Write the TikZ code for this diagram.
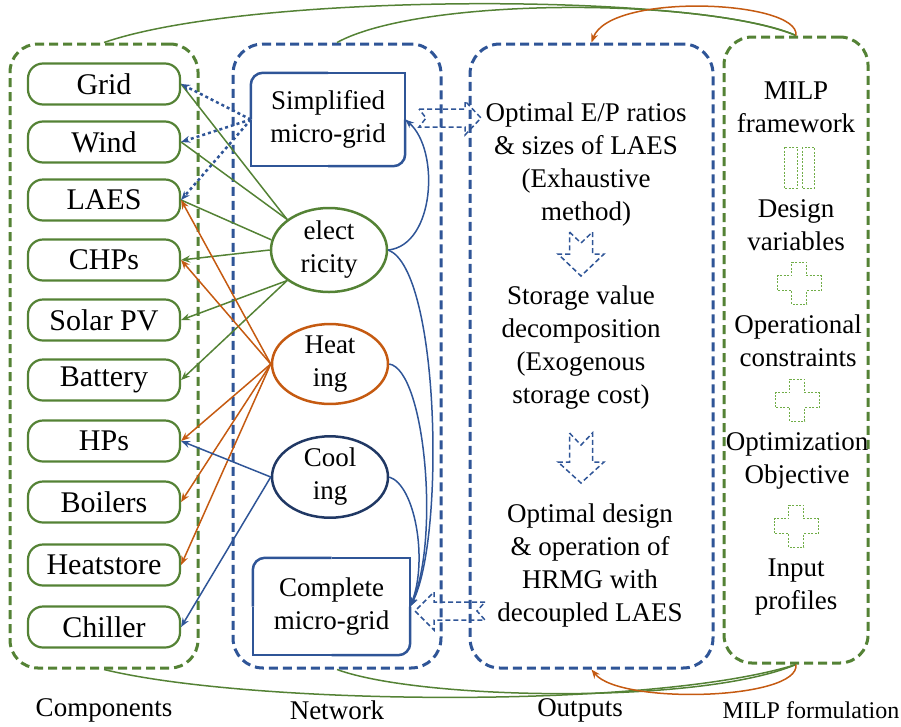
\documentclass[tikz,border=0pt]{standalone}
\usepackage{fontspec}
\setmainfont{LiberationSerif}[Extension=.ttf, UprightFont=*-Regular, BoldFont=*-Bold, ItalicFont=*-Italic]
\usetikzlibrary{shapes.geometric,arrows.meta}
\definecolor{grn}{HTML}{548235}
\definecolor{blu}{HTML}{2F5597}
\definecolor{navy}{HTML}{203864}
\definecolor{org}{HTML}{C55A11}
\definecolor{lgrn}{HTML}{70AD47}
\tikzset{
  txt/.style={font=\fontsize{27}{33}\selectfont, align=center, text=black, inner sep=0pt},
  frame/.style={draw=#1, line width=3pt, dash pattern=on 9pt off 5pt, rounded corners=28pt, inner sep=0pt},
  comp/.style={draw=grn, line width=2.2pt, rounded corners=15pt, minimum width=152pt,
               minimum height=41pt, inner sep=0pt, font=\fontsize{30}{34}\selectfont},
  gridbox/.style={inner sep=0pt, txt},
  diagline/.style={draw=blu, line width=2.5pt},
  oval/.style={ellipse, draw=#1, line width=2.5pt, minimum width=116pt, inner sep=0pt, txt},
  endtip/.style={-{Stealth[length=9pt,width=7pt]}},
  gline/.style={draw=grn, line width=1.5pt},
  oline/.style={draw=org, line width=1.5pt, endtip},
  bline/.style={draw=blu, line width=1.5pt},
  dotline/.style={draw=blu, line width=2.5pt, dash pattern=on 3pt off 3pt, endtip},
  hollow/.style={draw=blu, line width=1.5pt, dash pattern=on 5pt off 3pt, line join=miter},
  plusmark/.style={draw=lgrn, line width=0.9pt, dash pattern=on 2pt off 1.5pt},
  plussign/.pic={\draw[plusmark] (-7.5,-21) -- (7.5,-21) -- (7.5,-7.5) -- (22,-7.5) -- (22,7.5)
     -- (7.5,7.5) -- (7.5,21) -- (-7.5,21) -- (-7.5,7.5) -- (-22,7.5) -- (-22,-7.5) -- (-7.5,-7.5) -- cycle;}
}
% outline of a node with its upper-left and lower-right corners rounded
\newcommand\diagroundframe[1]{%
  \draw[diagline, rounded corners=12pt] (#1.west) -- (#1.north west) -- (#1.north);
  \draw[diagline] (#1.north) -- (#1.north east) -- (#1.east);
  \draw[diagline, rounded corners=12pt] (#1.east) -- (#1.south east) -- (#1.south);
  \draw[diagline] (#1.south) -- (#1.south west) -- (#1.west);}
\begin{document}
\begin{tikzpicture}[x=1pt,y=-1pt]
\useasboundingbox (0,0) rectangle (901,726);

% column frames
\node[frame=grn, minimum width=188pt, minimum height=624pt] (compbox) at (104,356) {};
\node[frame=blu, minimum width=208pt, minimum height=624pt, rounded corners=30pt] (netbox) at (337,356) {};
\node[frame=blu, minimum width=243pt, minimum height=624pt, rounded corners=30pt] (outbox) at (591.5,356) {};
\node[frame=grn, minimum width=144pt, minimum height=626pt] (milpbox) at (796,350) {};

% components
\node[comp] (grid)  at (104,84)  {Grid};
\node[comp] (wind)  at (104,142) {Wind};
\node[comp] (laes)  at (104,200) {LAES};
\node[comp] (chp)   at (104,260) {CHPs};
\node[comp] (pv)    at (104,320) {Solar PV};
\node[comp] (batt)  at (104,380) {Battery};
\node[comp] (hp)    at (104,441) {HPs};
\node[comp] (boil)  at (104,502) {Boilers};
\node[comp] (hstore) at (104,565) {Heatstore};
\node[comp] (chill) at (104,627) {Chiller};

% network
\node[gridbox, minimum width=154pt, minimum height=93pt] (simp) at (328,119.5) {Simplified\\micro-grid};
\node[gridbox, minimum width=157pt, minimum height=97pt] (cmpl) at (331.5,606.5) {Complete\\micro-grid};
\diagroundframe{simp}
\diagroundframe{cmpl}
\node[oval=grn, minimum height=84pt] (elec) at (329,250) {elect\\ricity};
\node[oval=org, minimum height=76pt] (heat) at (330,364) {Heat\\ing};
\node[oval=navy, minimum height=76pt] (cool) at (330,477) {Cool\\ing};

% outputs
\node[txt] (out1) at (586,165) {Optimal E/P ratios\\\& sizes of LAES\\(Exhaustive\\method)};
\node[txt] (out2) at (581,347.5) {Storage value\\decomposition\\(Exogenous\\storage cost)};
\node[txt] (out3) at (590,565.5) {Optimal design\\\& operation of\\HRMG with\\decoupled LAES};

% MILP formulation
\node[txt] (m1) at (796,107) {MILP\\framework};
\node[txt] (m2) at (796,225) {Design\\variables};
\node[txt] (m3) at (798,341) {Operational\\constraints};
\node[txt] (m4) at (797,461) {Optimization\\Objective};
\node[txt] (m5) at (796,587) {Input\\profiles};
\draw[plusmark] (784,147) rectangle (797,188);
\draw[plusmark] (802,147) rectangle (814,188);
\pic at (799,283) {plussign};
\pic at (797,400) {plussign};
\pic at (796,526) {plussign};

% column captions
\node[txt] (c1) at (104,710) {Components};
\node[txt] (c2) at (337,710) {Network};
\node[txt] (c3) at (580,710) {Outputs};
\node[txt, font=\fontsize{24}{28}\selectfont] (c4) at (811,710) {MILP formulation};

% block arrows between network and outputs
\draw[hollow] (419,109) -- (465,109) -- (465,101) -- (481,118) -- (465,135) -- (465,127) -- (419,127) -- (426,118) -- cycle;
\draw[hollow] (569.5,232) -- (581,243) -- (592.5,232) -- (592.5,254) -- (604,254) -- (581,276) -- (558,254) -- (569.5,254) -- cycle;
\draw[hollow] (569.5,433) -- (581,445) -- (592.5,433) -- (592.5,462) -- (604,462) -- (581,483) -- (558,462) -- (569.5,462) -- cycle;
\draw[hollow] (485,602) -- (434,602) -- (434,592) -- (415,611) -- (434,630) -- (434,620) -- (485,620) -- (477,611) -- cycle;

% electricity links
\draw[gline] (elec.north west) -- (grid.east);
\draw[gline] (elec.north west) -- (wind.east);
\draw[gline] (elec.170) -- (laes.east);
\draw[gline, endtip] (elec.west) -- (chp.east);
\draw[gline, endtip] (elec.south west) -- (pv.east);
\draw[gline, endtip] (elec.south west) -- (batt.east);

% heating links
\draw[oline] (heat.west) -- (laes.east);
\draw[oline] (heat.west) -- (chp.east);
\draw[oline] (heat.west) -- (hp.east);
\draw[oline] (heat.west) -- (boil.east);
\draw[oline] (heat.west) -- (hstore.east);

% cooling links
\draw[bline, endtip] (cool.west) -- (hp.east);
\draw[bline, endtip] (cool.west) -- (chill.east);

% simplified micro-grid links
\draw[dotline] (simp.west) -- (grid.east);
\draw[dotline] (simp.west) -- (wind.east);
\draw[dotline] (simp.west) -- (laes.east);

% carriers feeding the micro-grid models
\draw[bline, endtip] (elec.east) .. controls (435,245) and (440,150) .. (simp.east);
\draw[bline, endtip] (elec.east) .. controls (440,270) and (445,540) .. (cmpl.east);
\draw[bline, endtip] (heat.east) .. controls (425,370) and (440,540) .. (cmpl.east);
\draw[bline, endtip] (cool.east) .. controls (415,485) and (428,560) .. (cmpl.east);

% formulation ties across the columns
\draw[gline] (milpbox.north) .. controls (700,-8) and (250,-8) .. (compbox.north);
\draw[gline] (milpbox.north) .. controls (700,-3) and (420,-3) .. (netbox.north);
\draw[oline] (milpbox.north) .. controls (800,0) and (610,-8) .. (outbox.north);
\draw[gline] (milpbox.south) .. controls (650,710) and (250,705) .. (compbox.south);
\draw[gline] (milpbox.south) .. controls (700,705) and (420,700) .. (netbox.south);
\draw[oline] (milpbox.south) .. controls (800,700) and (620,705) .. (outbox.south);
\end{tikzpicture}
\end{document}
